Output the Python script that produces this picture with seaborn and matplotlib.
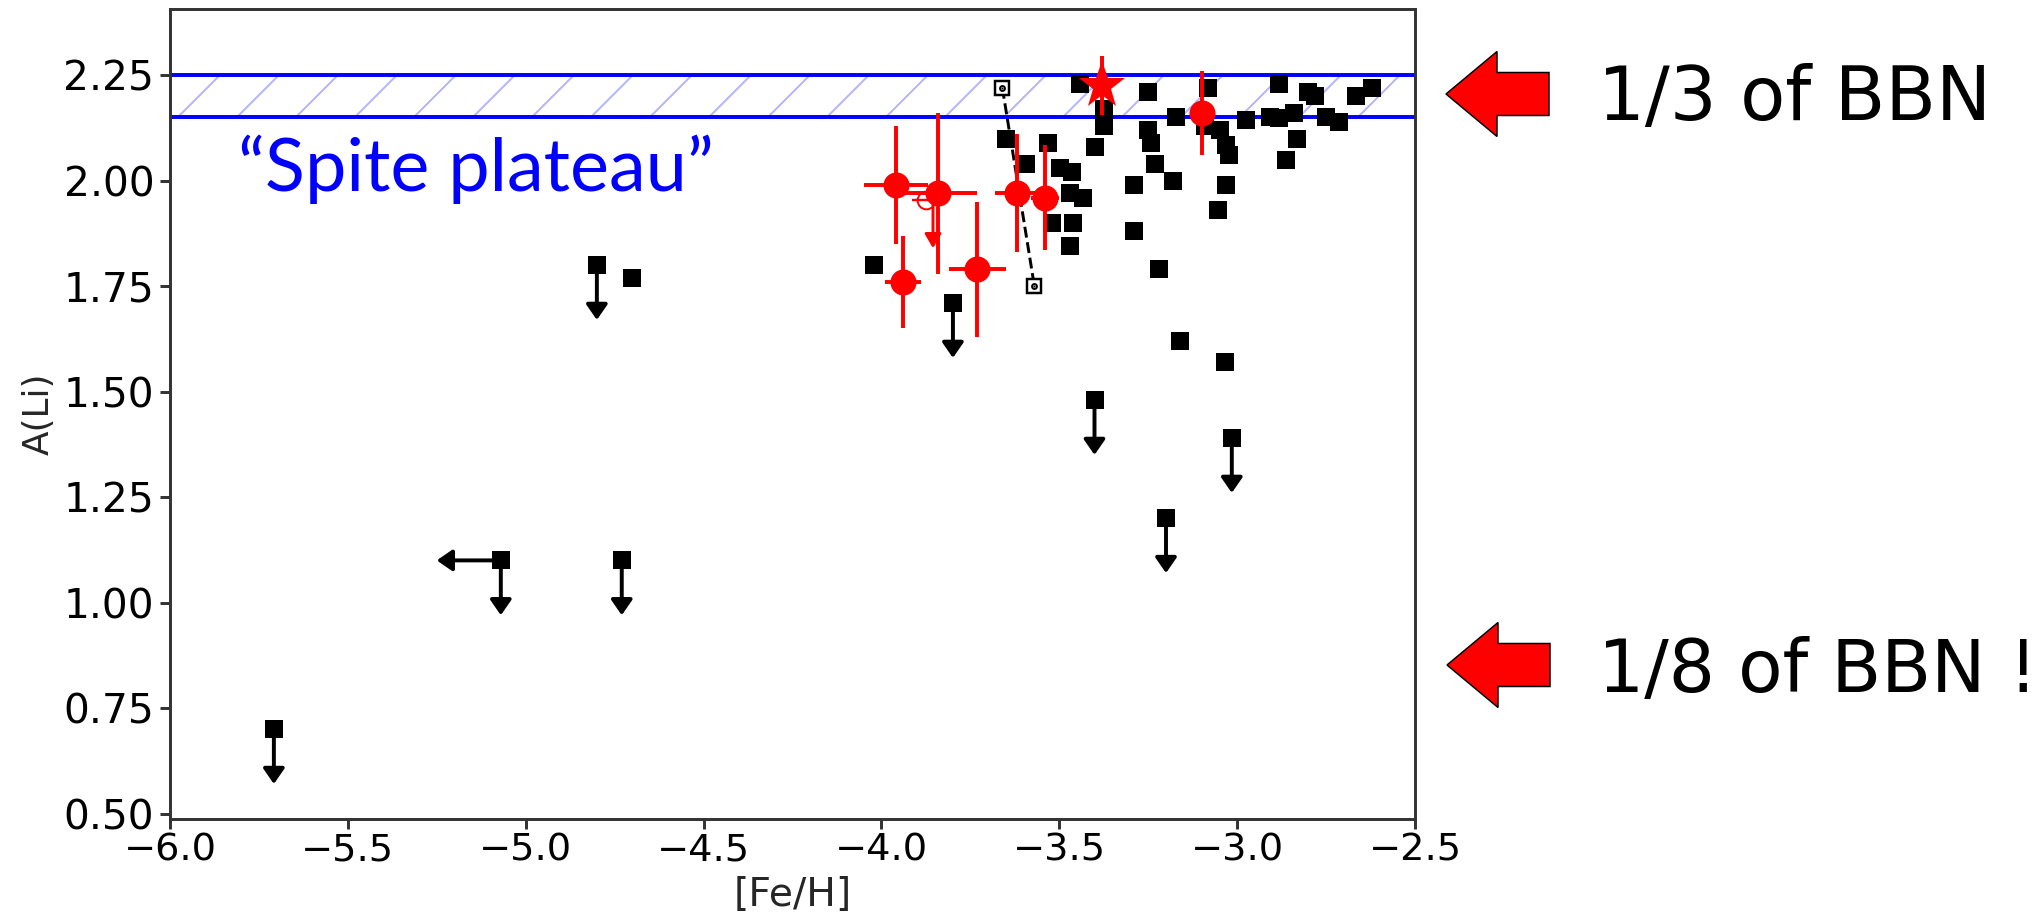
import matplotlib
matplotlib.use("Agg")
import matplotlib.pyplot as plt
import matplotlib.patches as mpatches
import seaborn as sns

# [Fe/H] and A(Li) of the black squares (detections)
feh_det = [-4.70, -4.02, -3.649, -3.532, -3.593, -3.499, -3.463, -3.471, -3.433,
           -3.520, -3.462, -3.471, -3.443, -3.373, -3.373, -3.401, -3.251, -3.171,
           -3.251, -3.242, -3.232, -3.180, -3.290, -3.290, -3.220, -3.162, -3.082,
           -3.089, -3.049, -3.031, -3.024, -3.032, -3.054, -3.034, -2.974, -2.909,
           -2.881, -2.841, -2.882, -2.801, -2.782, -2.749, -2.714, -2.665, -2.620,
           -2.832, -2.862]
ali_det = [1.77, 1.80, 2.10, 2.09, 2.04, 2.03, 2.02, 1.97, 1.96,
           1.90, 1.90, 1.845, 2.23, 2.17, 2.13, 2.08, 2.21, 2.15,
           2.12, 2.09, 2.04, 2.00, 1.99, 1.88, 1.79, 1.62, 2.22,
           2.13, 2.12, 2.085, 2.06, 1.99, 1.93, 1.57, 2.145, 2.15,
           2.148, 2.16, 2.23, 2.21, 2.20, 2.15, 2.14, 2.20, 2.22,
           2.10, 2.05]

# upper limits on A(Li)
feh_ul = [-5.708, -5.070, -4.730, -4.800, -3.799, -3.401, -3.015, -3.200]
ali_ul = [0.70, 1.10, 1.10, 1.80, 1.71, 1.48, 1.39, 1.20]
# upper limit on [Fe/H]
feh_ulx = [-5.070]
ali_ulx = [1.10]

# open squares joined by a dashed line
feh_open = [-3.66, -3.57]
ali_open = [2.22, 1.75]

# red points with error bars
feh_red = [-3.96, -3.84, -3.94, -3.73, -3.62, -3.54, -3.10]
ali_red = [1.99, 1.97, 1.76, 1.79, 1.97, 1.96, 2.16]
feh_red_err = [0.09, 0.11, 0.05, 0.08, 0.06, 0.04, 0.0]
ali_red_err = [0.14, 0.19, 0.11, 0.16, 0.14, 0.125, 0.10]

# red open circle (upper limit)
feh_red_ul = [-3.875]
ali_red_ul = [1.955]
feh_red_ul_err = [0.04]

# red star
feh_star = [-3.38]
ali_star = [2.225]
ali_star_err = [0.07]

plateau_lo, plateau_hi = 2.15, 2.25
ARROW_Y = 0.13
ARROW_X = 0.18
ARROW_RED = 0.115

DPI = 354
W, H = 2044, 921

sns.set_theme(style="ticks")
plt.rcParams["font.family"] = ["DejaVu Sans"]
plt.rcParams["hatch.linewidth"] = 0.4
plt.rcParams["axes.edgecolor"] = "#333333"
plt.rcParams["axes.linewidth"] = 0.6

fig = plt.figure(figsize=(W / DPI, H / DPI), dpi=DPI)
fig.patch.set_facecolor("white")
ax = fig.add_axes([170 / W, 1 - 819 / H, (1415 - 170) / W, (819 - 9) / H])
ax.set_facecolor("white")

# Spite plateau band
ax.axhspan(plateau_lo, plateau_hi, facecolor="none", edgecolor="#b4b4ff",
           hatch="//", linewidth=0, zorder=1)
ax.axhline(plateau_lo, color="#0000ff", lw=0.8, zorder=2)
ax.axhline(plateau_hi, color="#0000ff", lw=0.8, zorder=2)

# dashed pair of open squares
ax.plot(feh_open, ali_open, ls="--", lw=0.6, color="black", zorder=3)
ax.plot(feh_open, ali_open, ls="none", marker="s", ms=3.0, mfc="white",
        mec="black", mew=0.5, zorder=4)
ax.plot(feh_open, ali_open, ls="none", marker=".", ms=0.8, color="black", zorder=5)

# black squares
sns.scatterplot(x=feh_det, y=ali_det, marker="s", s=12, color="black",
                linewidth=0, ax=ax, zorder=4)
sns.scatterplot(x=feh_ul, y=ali_ul, marker="s", s=12, color="black",
                linewidth=0, ax=ax, zorder=4)

arrow_kw = dict(arrowstyle="-|>,head_length=0.26,head_width=0.18",
                mutation_scale=10, lw=0.8, color="black", shrinkA=0, shrinkB=0)
for x, y in zip(feh_ul, ali_ul):
    ax.annotate("", xy=(x, y - ARROW_Y), xytext=(x, y), arrowprops=arrow_kw, zorder=3)
for x, y in zip(feh_ulx, ali_ulx):
    ax.annotate("", xy=(x - ARROW_X, y), xytext=(x, y), arrowprops=arrow_kw, zorder=3)

# red points
ax.errorbar(feh_red, ali_red, xerr=feh_red_err, yerr=ali_red_err, fmt="o",
            color="red", ms=5.3, mew=0, elinewidth=0.8, capsize=0, zorder=6)
ax.errorbar(feh_red_ul, ali_red_ul, xerr=feh_red_ul_err, fmt="o", mfc="none",
            mec="red", color="red", ms=3.6, mew=0.4, elinewidth=0.5, capsize=0, zorder=6)
red_kw = dict(arrow_kw, color="red", lw=0.6)
red_kw["arrowstyle"] = "-|>,head_length=0.24,head_width=0.14"
for x, y in zip(feh_red_ul, ali_red_ul):
    ax.annotate("", xy=(x + 0.02, y - ARROW_RED), xytext=(x + 0.02, y),
                arrowprops=red_kw, zorder=6)
ax.errorbar(feh_star, ali_star, yerr=ali_star_err, fmt="*", color="red",
            ms=10, mew=0, elinewidth=0.8, capsize=0, zorder=7)

ax.text(-5.14, 1.975, "\u201cSpite plateau\u201d", fontfamily="Lato", fontsize=15,
        color="#0000ff", ha="center", va="baseline", zorder=8)

ax.set_xlim(-6.0, -2.5)
ax.set_ylim(0.487, 2.407)
ax.set_xticks([-6.0, -5.5, -5.0, -4.5, -4.0, -3.5, -3.0, -2.5])
ax.set_yticks([0.50, 0.75, 1.00, 1.25, 1.50, 1.75, 2.00, 2.25])
ax.set_yticklabels([f"{v:.2f}" for v in ax.get_yticks()])
ax.tick_params(axis="both", direction="out", length=2, width=0.6,
               labelsize=7.8, colors="#333333", labelcolor="black")
ax.tick_params(axis="y", labelsize=8.3, pad=1.2)
ax.tick_params(axis="x", pad=0.8)
ax.set_xlabel("[Fe/H]", fontsize=8.0, labelpad=1.5)
ax.set_ylabel("A(Li)", fontsize=7.3, labelpad=1.5)
for s in ax.spines.values():
    s.set_visible(True)

# block arrows and annotations on the right
def block_arrow(tip_x, tip_y):
    tail = 103
    arr = mpatches.FancyArrow((tip_x + tail) / DPI, (H - tip_y) / DPI, -tail / DPI, 0,
                              width=43 / DPI, head_width=85 / DPI, head_length=51 / DPI,
                              length_includes_head=True, facecolor="#ff0000",
                              edgecolor="black", linewidth=0.3,
                              transform=fig.dpi_scale_trans)
    fig.add_artist(arr)

block_arrow(1446, 94)
block_arrow(1447, 665)
fig.text(1598 / W, 1 - 120 / H, "1/3 of BBN", fontsize=15, color="black",
         ha="left", va="baseline")
fig.text(1598 / W, 1 - 692 / H, "1/8 of BBN !", fontsize=14.8, color="black",
         ha="left", va="baseline")

fig.savefig("out.png", dpi=DPI, facecolor="white")
